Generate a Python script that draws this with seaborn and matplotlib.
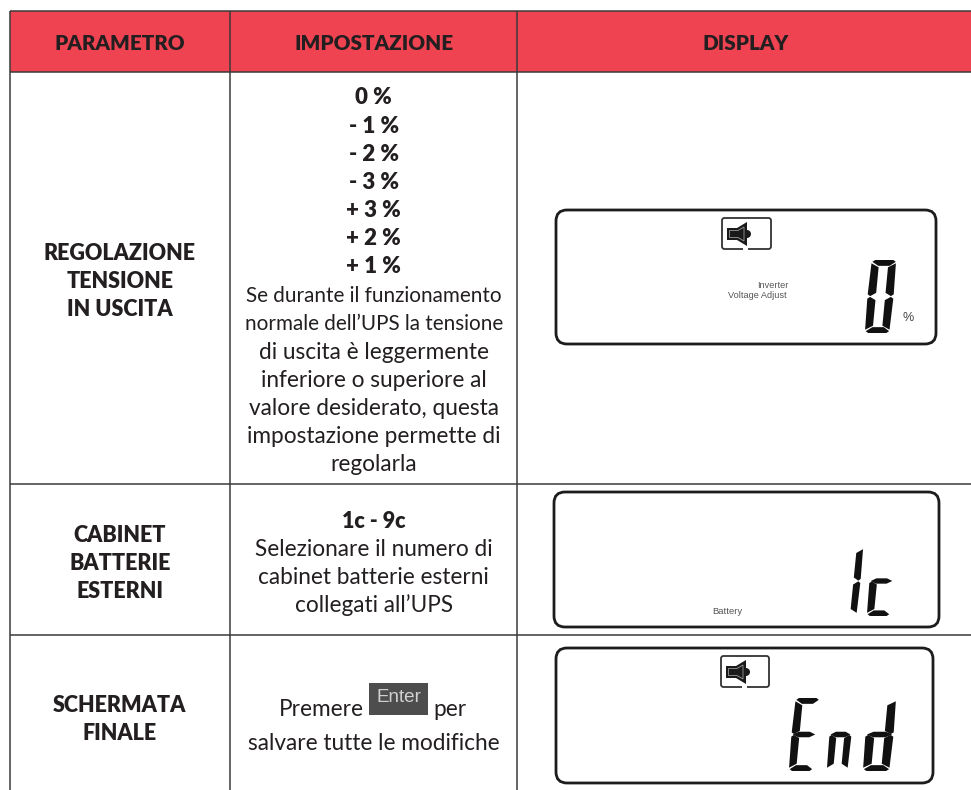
import matplotlib
matplotlib.use("Agg")
import matplotlib.pyplot as plt
import seaborn as sns
from matplotlib.patches import FancyBboxPatch, Polygon, Rectangle, Wedge

# table content
header_labels = ["PARAMETRO", "IMPOSTAZIONE", "DISPLAY"]
row1_param = ["REGOLAZIONE", "TENSIONE", "IN USCITA"]
row1_values = ["0 %", "- 1 %", "- 2 %", "- 3 %", "+ 3 %", "+ 2 %", "+ 1 %"]
row1_note = ["Se durante il funzionamento", "normale dell’UPS la tensione", "di uscita è leggermente",
             "inferiore o superiore al", "valore desiderato, questa", "impostazione permette di", "regolarla"]
row2_param = ["CABINET", "BATTERIE", "ESTERNI"]
row2_value = ["1c - 9c"]
row2_note = ["Selezionare il numero di", "cabinet batterie esterni", "collegati all’UPS"]
row3_param = ["SCHERMATA", "FINALE"]
row3_words = ["Premere", "Enter", "per"]
row3_note = ["salvare tutte le modifiche"]
lcd_labels = [["Inverter", "Voltage Adjust"], ["Battery"]]
lcd_glyphs = ["0", "1c", "End"]

# which lcd segments each glyph lights up
SEGMENTS = {"0": "abcdef", "1": "bc", "c": "deg", "E": "adefg", "n": "ceg", "d": "bcdeg"}
UNIT_A = [(0.06, 0.975), (0.16, 1.0), (0.86, 1.0), (0.96, 0.975), (0.74, 0.92), (0.3, 0.92)]
UNIT_F = [(0.03, 0.955), (0.32, 0.9), (0.32, 0.55), (0.1, 0.505), (0.0, 0.53)]
UNIT_G = [(0.05, 0.5), (0.28, 0.538), (0.72, 0.538), (0.95, 0.5), (0.72, 0.462), (0.28, 0.462)]
UNIT = {
    "a": UNIT_A,
    "d": [(x, 1 - y) for x, y in UNIT_A],
    "f": UNIT_F,
    "b": [(1 - x, y) for x, y in UNIT_F],
    "e": [(x, 1 - y) for x, y in UNIT_F],
    "c": [(1 - x, 1 - y) for x, y in UNIT_F],
    "g": UNIT_G,
}

RED = "#F04351"
INK = "#231F20"
LINE = "#3A3A3A"
LH = 28.1
BODY = 16.3
X1, X2, X3, XR = 10, 229.5, 517, 971
Y0, Y1, Y2, Y3 = 11, 72, 484, 635


def draw_glyph(ax, ch, x, top, w, h, skew=7):
    for seg in SEGMENTS[ch]:
        pts = []
        for u, v in UNIT[seg]:
            pts.append((x + u * (w - skew) + v * skew, top + (1 - v) * h))
        ax.add_patch(Polygon(pts, closed=True, fc="#111111", ec="none"))


def draw_speaker(ax, x, top, w, h):
    # rounded frame with the small gap at the bottom
    ax.add_patch(FancyBboxPatch((x + 1, top + 1), w - 2, h - 2, boxstyle="round,pad=0,rounding_size=2.5",
                                fc="white", ec="#333333", lw=1.3))
    ax.plot([x + 22, x + 27], [top + h - 1, top + h - 1], color="white", lw=2.6, solid_capstyle="butt")
    ax.add_patch(Polygon([(x + 6, top + 11), (x + 16, top + 11), (x + 26, top + 5), (x + 26, top + 29),
                          (x + 16, top + 23), (x + 6, top + 23)], fc="#1A1A1A", ec="none"))
    ax.add_patch(Polygon([(x + 8.5, top + 13.5), (x + 17, top + 13.5), (x + 23, top + 10), (x + 23, top + 24),
                          (x + 17, top + 20.5), (x + 8.5, top + 20.5)], fc="#1A1A1A", ec="#999999", lw=0.6))
    ax.add_patch(Wedge((x + 26, top + 17), 4, -90, 90, fc="#1A1A1A", ec="none"))


def draw_lcd(ax, x0, x1, y0, y1):
    ax.add_patch(FancyBboxPatch((x0, y0), x1 - x0, y1 - y0, boxstyle="round,pad=0,rounding_size=11",
                                fc="white", ec="#1C1C1C", lw=2.0))


def centered(ax, x, y, lines, bold=False, size=BODY):
    for i, s in enumerate(lines):
        ax.text(x, y + i * LH, s, ha="center", va="center", fontsize=size, color=INK,
                fontweight="heavy" if bold else "normal")


sns.set_theme(style="white")
plt.rcParams["font.family"] = ["Lato", "DejaVu Sans"]

fig = plt.figure(figsize=(9.71, 7.9), dpi=100)
ax = fig.add_axes([0, 0, 1, 1])
ax.set_xlim(0, 971)
ax.set_ylim(790, 0)
sns.despine(ax=ax, left=True, bottom=True)
ax.set_xticks([])
ax.set_yticks([])

# header band and rules
ax.add_patch(Rectangle((X1, Y0), XR - X1, Y1 - Y0, fc=RED, ec="none"))
for x in [X1, X2, X3]:
    ax.plot([x, x], [Y0, 790], color=LINE, lw=1.1, solid_capstyle="butt")
for y in [Y0, Y1, Y2, Y3]:
    ax.plot([X1, XR], [y, y], color=LINE, lw=1.1, solid_capstyle="butt")

col1 = (X1 + X2) / 2
col2 = (X2 + X3) / 2 + 0.5
col3 = (X3 + XR) / 2 + 2
for x, s in zip([col1, col2, col3], header_labels):
    ax.text(x, 44, s, ha="center", va="center", fontsize=14.9, fontweight="heavy", color=INK)

# first column
centered(ax, col1, 253, row1_param, bold=True, size=15.5)
centered(ax, col1, 535, row2_param, bold=True, size=15.5)
centered(ax, col1, 705, row3_param, bold=True, size=15.5)

# second column
centered(ax, col2, 98, row1_values, bold=True, size=16)
# first two note lines are set tighter in the original
centered(ax, col2, 296, row1_note[:2], size=14.9)
centered(ax, col2, 296 + 2 * LH, row1_note[2:])
centered(ax, col2, 521, row2_value, bold=True, size=15.5)
centered(ax, col2, 549, row2_note)
ax.text(321.5, 709, row3_words[0], ha="center", va="center", fontsize=BODY, color=INK)
ax.add_patch(Rectangle((369, 683), 59, 32, fc="#4D4D4D", ec="none"))
ax.text(398.5, 697.5, row3_words[1], ha="center", va="center", fontsize=13.6, color="#D0D0D0",
        family="Liberation Sans")
ax.text(449.5, 709, row3_words[2], ha="center", va="center", fontsize=BODY, color=INK)
centered(ax, col2 + 0.5, 743, row3_note)

# display 1
draw_lcd(ax, 556, 936, 210, 344)
draw_speaker(ax, 721, 217, 51, 33)
ax.text(788, 285, lcd_labels[0][0], ha="right", va="center", fontsize=6.6, color="#555555", family="Liberation Sans")
ax.text(787, 296, lcd_labels[0][1], ha="right", va="center", fontsize=6.6, color="#555555", family="Liberation Sans")
draw_glyph(ax, lcd_glyphs[0][0], 864, 260, 33, 73)
ax.text(908, 318, "%", ha="center", va="center", fontsize=9, color="#444444", family="Liberation Sans")

# display 2
draw_lcd(ax, 554, 939, 492, 627)
ax.text(727, 611, lcd_labels[1][0], ha="center", va="center", fontsize=6.8, color="#555555", family="Liberation Sans")
draw_glyph(ax, lcd_glyphs[1][0], 835, 546, 29, 70)
draw_glyph(ax, lcd_glyphs[1][1], 866, 546, 31, 70)

# display 3
draw_lcd(ax, 556, 933, 648, 783)
draw_speaker(ax, 720, 655, 50, 33)
for ch, x, w in zip(lcd_glyphs[2], [788, 826, 862], [32, 29, 35]):
    draw_glyph(ax, ch, x, 698, w, 73)

fig.savefig("out.png", dpi=100, facecolor="white")
